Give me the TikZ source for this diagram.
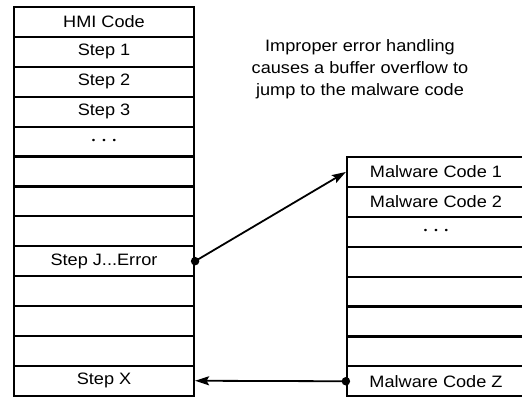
\documentclass[tikz,border=0pt]{standalone}
\usepackage{fontspec}
\setmainfont[FakeStretch=1.1]{Liberation Sans}
\usetikzlibrary{arrows.meta}
\newcommand{\mydots}{{\fontsize{9}{8}\selectfont •\hspace{7pt}•\hspace{7pt}•}}
\newcommand{\stepjtext}{Step J...Error}
\begin{document}
\begin{tikzpicture}[x=1pt,y=-1pt,
  cell/.style={draw,line width=2.2pt,minimum width=180pt,minimum height=29.9pt,inner sep=0pt,
    font=\fontsize{16.5}{18}\selectfont},
  rcell/.style={cell,minimum width=178pt},
  link/.style={line width=1.8pt,-{Stealth[length=14pt,width=9pt,inset=2.5pt]}},
  dotmark/.style={circle,fill,inner sep=0pt,minimum size=8.5pt}]
\clip (0,0) rectangle (522,397);
\fill[white] (0,0) rectangle (522,397);
% left column
\foreach \i/\t in {1/HMI Code,2/Step 1,3/Step 2,4/Step 3,5/\mydots,6/,7/,8/,9/\stepjtext,10/,11/,12/,13/Step X}{
  \node[cell] (L\i) at (104,{7+29.9*(\i-0.5)}) {\t};
}
% right column
\foreach \i/\t in {1/Malware Code 1,2/Malware Code 2,3/\mydots,4/,5/,6/,7/,8/Malware Code Z}{
  \node[rcell] (R\i) at (436,{157+29.9*(\i-0.5)}) {\t};
}
% annotation
\node[align=center,font=\fontsize{16.5}{22}\selectfont] (note) at (360,69) {Improper error handling\\causes a buffer overflow to\\jump to the malware code};
% connectors
\node[dotmark] (d1) at (L9.east) {};
\node[dotmark] (d2) at (R8.west) {};
\draw[link] (d1.center) -- (R1.west);
\draw[link] (d2.center) -- (L13.east);
\end{tikzpicture}
\end{document}
